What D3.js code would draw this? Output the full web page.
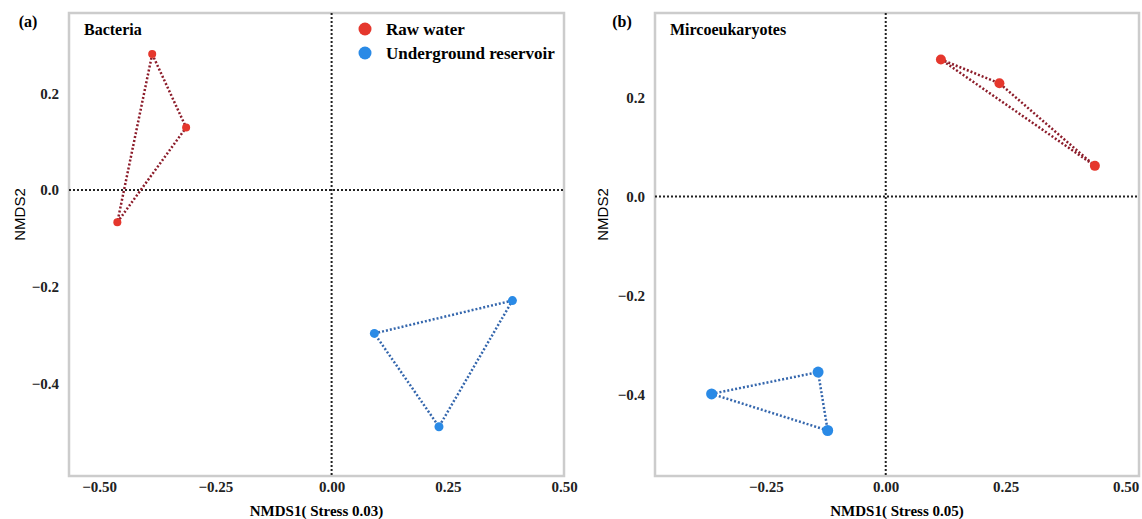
<!DOCTYPE html>
<html>
<head>
<meta charset="utf-8">
<script src="https://cdn.jsdelivr.net/npm/d3@7"></script>
<style>
  body { margin: 0; background: #fff; }
  svg { display: block; }
  .tick-label { font-family: "Liberation Serif", "DejaVu Serif", serif; font-weight: bold; font-size: 15px; fill: #222; }
</style>
</head>
<body>
<svg id="chart" width="1142" height="519"></svg>
<script>
// panel (a) Bacteria
const bacteriaRaw = [[-0.386, 0.281], [-0.313, 0.129], [-0.461, -0.067]];
const bacteriaUnder = [[0.389, -0.229], [0.092, -0.297], [0.231, -0.490]];
// panel (b) Mircoeukaryotes
const microRaw = [[0.115, 0.277], [0.237, 0.229], [0.436, 0.062]];
const microUnder = [[-0.363, -0.399], [-0.141, -0.355], [-0.121, -0.473]];

const xTicks = [-0.50, -0.25, 0.00, 0.25, 0.50];
const yTicks = [0.2, 0.0, -0.2, -0.4];
const legendNames = ['Raw water', 'Underground reservoir'];

const pointColors = ['#e5372d', '#2a8ae6'];
const lineColors = ['#8c1c2a', '#3567ad'];

const svg = d3.select('#chart');

const panels = [
  { tag: '(a)', name: 'Bacteria', stress: 'NMDS1( Stress 0.03)', groups: [bacteriaRaw, bacteriaUnder],
    box: { left: 69, right: 564, top: 13, bottom: 476 },
    xDomain: [-0.565, 0.50], yDomain: [-0.592, 0.366], xt: xTicks, r: 4, legend: true,
    tagX: 28, yLabelX: 20 },
  { tag: '(b)', name: 'Mircoeukaryotes', stress: 'NMDS1( Stress 0.05)', groups: [microRaw, microUnder],
    box: { left: 655, right: 1139, top: 13, bottom: 476 },
    xDomain: [-0.481, 0.528], yDomain: [-0.565, 0.371], xt: xTicks.slice(1), r: 5, legend: false,
    tagX: 622, yLabelX: 603 }
];

panels.forEach(p => {
  const b = p.box;
  const x = d3.scaleLinear().domain(p.xDomain).range([b.left, b.right]);
  const y = d3.scaleLinear().domain(p.yDomain).range([b.bottom, b.top]);
  const g = svg.append('g');

  // frame
  g.append('rect')
    .attr('x', b.left).attr('y', b.top)
    .attr('width', b.right - b.left).attr('height', b.bottom - b.top)
    .attr('fill', '#fff')
    .attr('stroke', '#cccccc')
    .attr('stroke-width', 2.5);

  // zero lines
  g.append('line')
    .attr('x1', x(0)).attr('x2', x(0))
    .attr('y1', b.top).attr('y2', b.bottom)
    .attr('stroke', '#222').attr('stroke-width', 2)
    .attr('stroke-dasharray', '2,2');
  g.append('line')
    .attr('x1', b.left).attr('x2', b.right)
    .attr('y1', y(0)).attr('y2', y(0))
    .attr('stroke', '#222').attr('stroke-width', 2)
    .attr('stroke-dasharray', '2,2');

  // axes without tick marks
  const xAxis = g.append('g')
    .attr('transform', `translate(0,${b.bottom})`)
    .call(d3.axisBottom(x).tickValues(p.xt).tickSize(0).tickPadding(5)
      .tickFormat(d => d3.format('.2f')(d).replace('-', '\u2212')));
  xAxis.select('.domain').remove();
  xAxis.selectAll('text').attr('class', 'tick-label').attr('font-size', null).attr('font-family', null);

  const yAxis = g.append('g')
    .attr('transform', `translate(${b.left},0)`)
    .call(d3.axisLeft(y).tickValues(yTicks).tickSize(0).tickPadding(10)
      .tickFormat(d => d3.format('.1f')(d).replace('-', '\u2212')));
  yAxis.select('.domain').remove();
  yAxis.selectAll('text').attr('class', 'tick-label').attr('font-size', null).attr('font-family', null);

  // hulls
  p.groups.forEach((pts, i) => {
    g.append('path')
      .attr('d', d3.line().x(d => x(d[0])).y(d => y(d[1])).curve(d3.curveLinearClosed)(pts))
      .attr('fill', 'none')
      .attr('stroke', lineColors[i])
      .attr('stroke-width', 2.5)
      .attr('stroke-dasharray', '2,2');
    g.selectAll(null)
      .data(pts)
      .enter()
      .append('circle')
      .attr('cx', d => x(d[0]))
      .attr('cy', d => y(d[1]))
      .attr('r', i === 1 ? p.r + 0.5 : p.r)
      .attr('fill', pointColors[i]);
  });

  // texts
  g.append('text')
    .attr('x', p.tagX).attr('y', 27)
    .attr('text-anchor', 'middle')
    .style('font-family', '"Liberation Serif", serif').style('font-weight', 'bold').style('font-size', '16px')
    .text(p.tag);
  g.append('text')
    .attr('x', b.left + 15).attr('y', 35)
    .style('font-family', '"Liberation Serif", serif').style('font-weight', 'bold').style('font-size', '16px')
    .text(p.name);
  g.append('text')
    .attr('x', (b.left + b.right) / 2).attr('y', 516)
    .attr('text-anchor', 'middle')
    .style('font-family', '"Liberation Serif", serif').style('font-weight', 'bold').style('font-size', '15px')
    .text(p.stress);
  g.append('text')
    .attr('transform', `translate(${p.yLabelX + 5},${(b.top + b.bottom) / 2 - 30}) rotate(-90)`)
    .attr('text-anchor', 'middle')
    .style('font-family', '"Liberation Sans", Arial, sans-serif').style('font-size', '15px')
    .text('NMDS2');

  if (p.legend) {
    legendNames.forEach((n, i) => {
      g.append('circle')
        .attr('cx', 365).attr('cy', 29 + i * 24)
        .attr('r', 6.5)
        .attr('fill', pointColors[i]);
      g.append('text')
        .attr('x', 386).attr('y', 29 + i * 24)
        .attr('dy', '0.35em')
        .style('font-family', '"Liberation Serif", serif').style('font-weight', 'bold').style('font-size', '17px')
        .text(n);
    });
  }
});
</script>
</body>
</html>
